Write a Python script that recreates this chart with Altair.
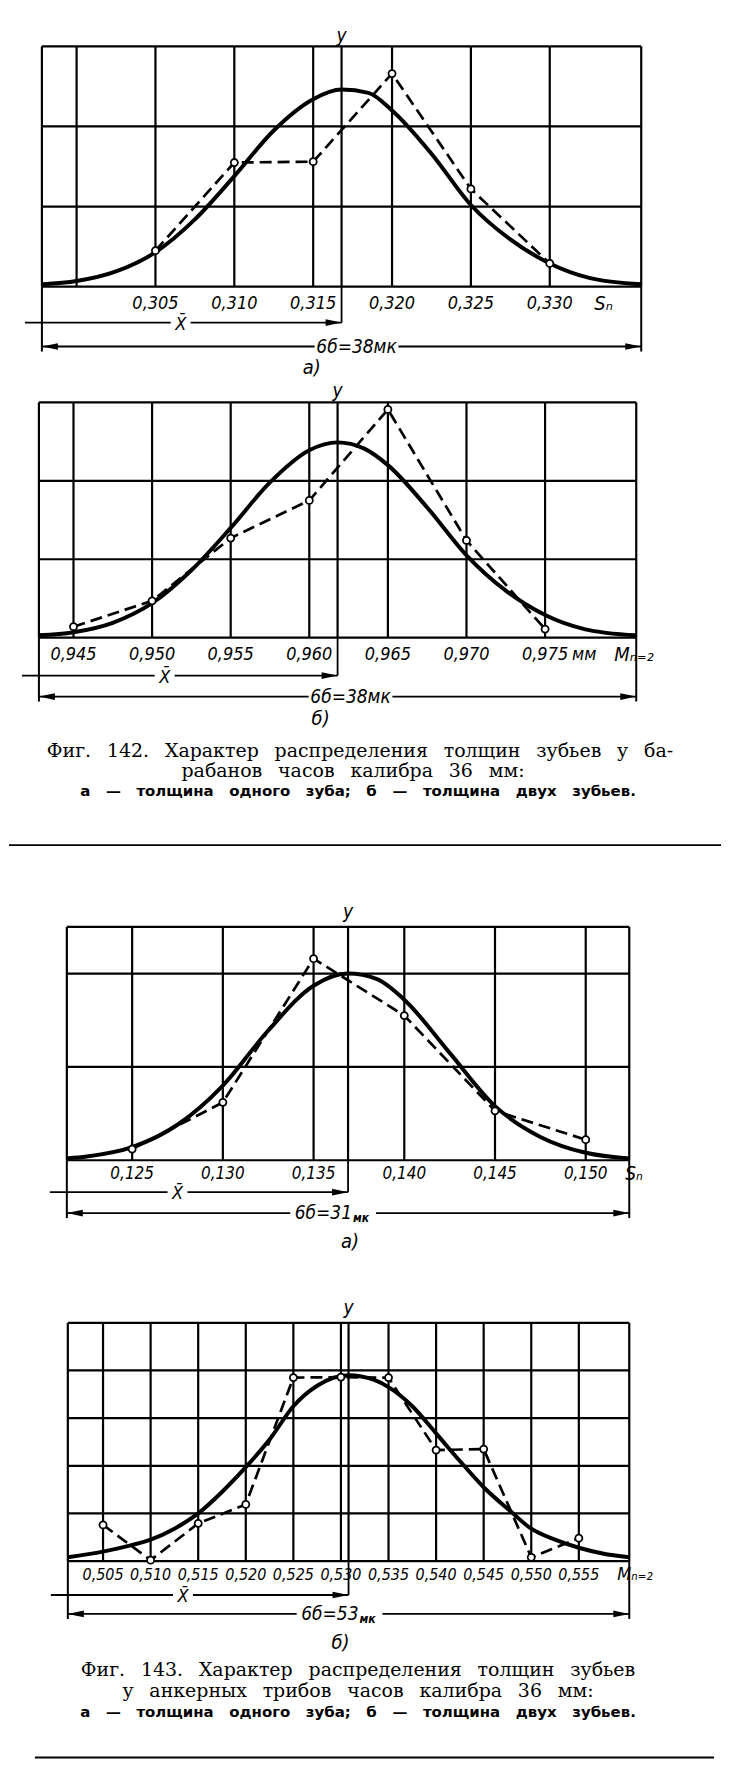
import altair as alt
import pandas as pd

FONT_LAB = "Liberation Sans Narrow, DejaVu Sans Condensed, Liberation Sans, sans-serif"
FONT_CAP = "DejaVu Serif, Liberation Serif, serif"
FONT_CAP3 = "DejaVu Sans, Liberation Sans, sans-serif"
W = 714

# ---------------- Фиг. 142 а ----------------
p1_frame = [0.2978, 0.3358]
p1_mean = 0.3168
p1_levels = [0, 1, 2, 3]
p1_grid_x = [0.300, 0.305, 0.310, 0.315, 0.320, 0.325, 0.330]
p1_ticks = [0.305, 0.310, 0.315, 0.320, 0.325, 0.330]
p1_tick_labels = ["0,305", "0,310", "0,315", "0,320", "0,325", "0,330"]
p1_obs_x = [0.305, 0.310, 0.315, 0.320, 0.325, 0.330]
p1_obs_y = [0.45, 1.55, 1.56, 2.66, 1.22, 0.29]
p1_fit_x = [0.2978, 0.300, 0.3025, 0.305, 0.3075, 0.310, 0.3125, 0.315, 0.3168,
            0.3185, 0.320, 0.3225, 0.325, 0.3275, 0.330, 0.3325, 0.3358]
p1_fit_y = [0.03, 0.07, 0.19, 0.43, 0.84, 1.38, 1.95, 2.34, 2.46,
            2.42, 2.20, 1.66, 1.02, 0.59, 0.29, 0.11, 0.03]

# ---------------- Фиг. 142 б ----------------
p2_frame = [0.9428, 0.9808]
p2_mean = 0.9618
p2_levels = [0, 1, 2, 3]
p2_grid_x = [0.945, 0.950, 0.955, 0.960, 0.965, 0.970, 0.975]
p2_ticks = [0.945, 0.950, 0.955, 0.960, 0.965, 0.970, 0.975]
p2_tick_labels = ["0,945", "0,950", "0,955", "0,960", "0,965", "0,970", "0,975"]
p2_obs_x = [0.945, 0.950, 0.955, 0.960, 0.965, 0.970, 0.975]
p2_obs_y = [0.14, 0.47, 1.27, 1.75, 2.91, 1.24, 0.11]
p2_fit_x = [0.9428, 0.945, 0.9475, 0.950, 0.9525, 0.955, 0.9575, 0.960, 0.9618,
            0.9635, 0.965, 0.9675, 0.970, 0.9725, 0.975, 0.9775, 0.9808]
p2_fit_y = [0.03, 0.07, 0.19, 0.44, 0.86, 1.40, 1.98, 2.39, 2.49,
            2.41, 2.20, 1.66, 1.05, 0.60, 0.29, 0.11, 0.03]

# ---------------- Фиг. 143 а ----------------
p3_frame = [0.1214, 0.1524]
p3_mean = 0.1369
p3_levels = [0, 1, 2, 2.5]
p3_grid_x = [0.125, 0.130, 0.135, 0.140, 0.145, 0.150]
p3_ticks = [0.125, 0.130, 0.135, 0.140, 0.145, 0.150]
p3_tick_labels = ["0,125", "0,130", "0,135", "0,140", "0,145", "0,150"]
p3_obs_x = [0.125, 0.130, 0.135, 0.140, 0.145, 0.150]
p3_obs_y = [0.12, 0.62, 2.16, 1.55, 0.53, 0.22]
p3_fit_x = [0.1214, 0.1225, 0.125, 0.1275, 0.130, 0.1325, 0.135, 0.1369,
            0.1385, 0.140, 0.1425, 0.145, 0.1475, 0.150, 0.1524]
p3_fit_y = [0.02, 0.04, 0.14, 0.38, 0.80, 1.39, 1.87, 2.00,
            1.94, 1.72, 1.15, 0.58, 0.25, 0.08, 0.02]

# ---------------- Фиг. 143 б ----------------
p4_frame = [0.5013, 0.5603]
p4_mean = 0.5308
p4_levels = [0, 1, 2, 3, 4, 5]
p4_grid_x = [0.505, 0.510, 0.515, 0.520, 0.525, 0.530, 0.535, 0.540, 0.545, 0.550, 0.555]
p4_ticks = [0.505, 0.510, 0.515, 0.520, 0.525, 0.530, 0.535, 0.540, 0.545, 0.550, 0.555]
p4_tick_labels = ["0,505", "0,510", "0,515", "0,520", "0,525", "0,530", "0,535",
                  "0,540", "0,545", "0,550", "0,555"]
p4_obs_x = [0.505, 0.510, 0.515, 0.520, 0.525, 0.530, 0.535, 0.540, 0.545, 0.550, 0.555]
p4_obs_y = [0.76, 0.02, 0.79, 1.19, 3.85, 3.86, 3.85, 2.33, 2.35, 0.08, 0.48]
p4_fit_x = [0.5013, 0.505, 0.5079, 0.510, 0.5125, 0.515, 0.5175, 0.520, 0.5225,
            0.525, 0.5275, 0.5308, 0.5335, 0.535, 0.5375, 0.540, 0.5425, 0.545,
            0.5478, 0.550, 0.5525, 0.555, 0.5575, 0.5603]
p4_fit_y = [0.08, 0.20, 0.33, 0.45, 0.68, 1.00, 1.45, 1.97, 2.55,
            3.25, 3.68, 3.90, 3.80, 3.65, 3.25, 2.68, 2.10, 1.55,
            1.05, 0.68, 0.45, 0.28, 0.16, 0.08]

# ---------------- captions ----------------
G = " \u00a0\u2009"
G3 = " \u00a0\u00a0"
cap142 = [G.join(["Фиг.", "142.", "Характер", "распределения", "толщин", "зубьев", "у", "ба-"]),
          G.join(["рабанов", "часов", "калибра", "36", "мм:"]),
          G3.join(["а", "—", "толщина", "одного", "зуба;", "б", "—", "толщина", "двух", "зубьев."])]
cap143 = [G.join(["Фиг.", "143.", "Характер", "распределения", "толщин", "зубьев"]),
          G.join(["у", "анкерных", "трибов", "часов", "калибра", "36", "мм:"]),
          G3.join(["а", "—", "толщина", "одного", "зуба;", "б", "—", "толщина", "двух", "зубьев."])]

ARROW_R = "M0,0L-2,-0.42L-2,0.42Z"
ARROW_L = "M0,0L2,-0.42L2,0.42Z"


def panel(frame, mean, levels, grid_x, ticks, tick_labels, obs_x, obs_y, fit_x, fit_y,
          lay, unit_text, unit_dx, sig_main, sig_sub, xbar_at, extra=None):
    L, R = frame
    top = levels[-1]
    xs = alt.Scale(domain=[L, R], range=[lay["Lpx"], lay["Rpx"]], nice=False, zero=False)
    ys = alt.Scale(domain=[0, top], range=[lay["axis"], lay["topy"]], nice=False, zero=False)
    ppu = (lay["Rpx"] - lay["Lpx"]) / (R - L)

    def X(f):
        return alt.X(f, type="quantitative", scale=xs, axis=None)

    def Y(f):
        return alt.Y(f, type="quantitative", scale=ys, axis=None)

    layers = []
    # vertical grid, frame borders and the mean (y) line
    vx = [L] + list(grid_x) + [mean, R]
    dv = pd.DataFrame({"x": vx, "y0": [0] * len(vx), "y1": [top] * len(vx)})
    layers.append(alt.Chart(dv).mark_rule(color="black", strokeWidth=2.2)
                  .encode(x=X("x"), y=Y("y0"), y2="y1"))
    # horizontal grid
    dh = pd.DataFrame({"lev": levels, "x0": [L] * len(levels), "x1": [R] * len(levels)})
    layers.append(alt.Chart(dh).mark_rule(color="black", strokeWidth=2.2)
                  .encode(x=X("x0"), x2="x1", y=Y("lev")))
    # borders extended below the axis
    de = pd.DataFrame({"x": [L, R]})
    layers.append(alt.Chart(de).mark_rule(color="black", strokeWidth=2)
                  .encode(x=X("x"), y=alt.value(lay["axis"]), y2=alt.value(lay["sig"] + 5)))
    dm = pd.DataFrame({"x": [mean]})
    layers.append(alt.Chart(dm).mark_rule(color="black", strokeWidth=1.8)
                  .encode(x=X("x"), y=alt.value(lay["axis"]), y2=alt.value(lay["xbar"])))
    # fitted normal curve
    df_fit = pd.DataFrame({"x": fit_x, "y": fit_y})
    layers.append(alt.Chart(df_fit).mark_line(color="black", strokeWidth=4, interpolate="monotone")
                  .encode(x=X("x"), y=Y("y")))
    # empirical polygon
    df_obs = pd.DataFrame({"x": obs_x, "y": obs_y})
    layers.append(alt.Chart(df_obs).mark_line(color="black", strokeWidth=2.7, strokeDash=[12, 6])
                  .encode(x=X("x"), y=Y("y")))
    layers.append(alt.Chart(df_obs).mark_point(shape="circle", filled=True, fill="white",
                                               stroke="black", strokeWidth=1.8, size=50, opacity=1)
                  .encode(x=X("x"), y=Y("y")))
    # tick labels
    dt = pd.DataFrame({"x": ticks, "t": tick_labels})
    layers.append(alt.Chart(dt).mark_text(font=FONT_LAB, fontStyle="italic", fontSize=lay["fs"],
                                          baseline="middle", align="center", color="black")
                  .encode(x=X("x"), y=alt.value(lay["lab"]), text="t:N"))
    # unit label at the right end of the axis
    du = pd.DataFrame({"x": [R], "t": [unit_text]})
    layers.append(alt.Chart(du).mark_text(font=FONT_LAB, fontStyle="italic", fontSize=lay["fs"] + 2,
                                          baseline="middle", align="left", dx=unit_dx, color="black")
                  .encode(x=X("x"), y=alt.value(lay["lab"]), text="t:N"))
    if extra is not None:
        dx_ = pd.DataFrame({"x": [extra[0]], "t": [extra[1]]})
        layers.append(alt.Chart(dx_).mark_text(font=FONT_LAB, fontStyle="italic", fontSize=lay["fs"],
                                               baseline="middle", align="left", dx=extra[2], color="black")
                      .encode(x=X("x"), y=alt.value(lay["lab"]), text="t:N"))
    # "y" label above the mean line
    dy_ = pd.DataFrame({"x": [mean], "t": ["y"]})
    layers.append(alt.Chart(dy_).mark_text(font=FONT_LAB, fontStyle="italic", fontSize=19,
                                           baseline="middle", align="center", color="black")
                  .encode(x=X("x"), y=alt.value(lay["ylab"]), text="t:N"))
    # X-bar arrow
    start = L - 17 / ppu
    g = 10 / ppu
    dxa = pd.DataFrame({"x0": [start, xbar_at + g], "x1": [xbar_at - g, mean]})
    layers.append(alt.Chart(dxa).mark_rule(color="black", strokeWidth=1.8)
                  .encode(x=X("x0"), x2="x1", y=alt.value(lay["xbar"])))
    layers.append(alt.Chart(dm).mark_point(shape=ARROW_R, filled=True, color="black", size=256,
                                           opacity=1, strokeWidth=0)
                  .encode(x=X("x"), y=alt.value(lay["xbar"])))
    dxl = pd.DataFrame({"x": [xbar_at], "t": ["X\u0304"]})
    layers.append(alt.Chart(dxl).mark_text(font=FONT_LAB, fontStyle="italic", fontSize=18,
                                           baseline="middle", align="center", color="black")
                  .encode(x=X("x"), y=alt.value(lay["xbar"] + 2), text="t:N"))
    # 6 sigma arrow
    c = mean + lay["sig_dx"] / ppu
    gl = lay["gap_l"] / ppu
    gr = lay["gap_r"] / ppu
    dsa = pd.DataFrame({"x0": [L, c + gr], "x1": [c - gl, R]})
    layers.append(alt.Chart(dsa).mark_rule(color="black", strokeWidth=1.8)
                  .encode(x=X("x0"), x2="x1", y=alt.value(lay["sig"])))
    layers.append(alt.Chart(pd.DataFrame({"x": [L]})).mark_point(shape=ARROW_L, filled=True, color="black",
                                                                 size=256, opacity=1, strokeWidth=0)
                  .encode(x=X("x"), y=alt.value(lay["sig"])))
    layers.append(alt.Chart(pd.DataFrame({"x": [R]})).mark_point(shape=ARROW_R, filled=True, color="black",
                                                                 size=256, opacity=1, strokeWidth=0)
                  .encode(x=X("x"), y=alt.value(lay["sig"])))
    dsl = pd.DataFrame({"x": [c], "t": [sig_main]})
    if sig_sub:
        layers.append(alt.Chart(dsl).mark_text(font=FONT_LAB, fontStyle="italic", fontSize=19,
                                               baseline="middle", align="right", dx=10, color="black")
                      .encode(x=X("x"), y=alt.value(lay["sig"]), text="t:N"))
        dss = pd.DataFrame({"x": [c], "t": [sig_sub]})
        layers.append(alt.Chart(dss).mark_text(font=FONT_LAB, fontStyle="italic", fontWeight="bold",
                                               fontSize=12, baseline="middle", align="left", dx=11, dy=5,
                                               color="black")
                      .encode(x=X("x"), y=alt.value(lay["sig"]), text="t:N"))
    else:
        layers.append(alt.Chart(dsl).mark_text(font=FONT_LAB, fontStyle="italic", fontSize=19,
                                               baseline="middle", align="center", color="black")
                      .encode(x=X("x"), y=alt.value(lay["sig"]), text="t:N"))
    # sub-figure label
    dsub = pd.DataFrame({"x": [mean], "t": [lay["sub"]]})
    layers.append(alt.Chart(dsub).mark_text(font=FONT_LAB, fontStyle="italic", fontSize=20,
                                            baseline="middle", align="center", dx=lay["sub_dx"], color="black")
                  .encode(x=X("x"), y=alt.value(lay["suby"]), text="t:N"))
    return alt.layer(*layers).properties(width=W, height=lay["h"])


def caption(lines, centers, ys, h, rule_y, rx0, rx1):
    layers = []
    specs = [(FONT_CAP, 19, "normal"), (FONT_CAP, 19, "normal"), (FONT_CAP3, 15, "bold")]
    for i, txt in enumerate(lines):
        f, s, w = specs[i]
        layers.append(alt.Chart(pd.DataFrame({"t": [txt]}))
                      .mark_text(font=f, fontSize=s, fontWeight=w, baseline="middle", align="center",
                                 color="black")
                      .encode(x=alt.value(centers[i]), y=alt.value(ys[i]), text="t:N"))
    layers.append(alt.Chart(pd.DataFrame({"a": [0]})).mark_rule(color="black", strokeWidth=2)
                  .encode(x=alt.value(rx0), x2=alt.value(rx1), y=alt.value(rule_y)))
    return alt.layer(*layers).properties(width=W, height=h)


lay1 = dict(Lpx=33, Rpx=634, ylab=26, topy=36, axis=277, lab=294, xbar=313, sig=337, suby=359,
            h=372, fs=18, sig_dx=15, gap_l=42, gap_r=42, sub="а)", sub_dx=-30)
lay2 = dict(Lpx=30, Rpx=629, ylab=10, topy=21, axis=257, lab=274, xbar=295, sig=316, suby=339,
            h=355, fs=18, sig_dx=13, gap_l=42, gap_r=42, sub="б)", sub_dx=-17)
lay3 = dict(Lpx=58, Rpx=622, ylab=47, topy=62, axis=296, lab=310, xbar=328, sig=349, suby=378,
            h=390, fs=17, sig_dx=-6, gap_l=52, gap_r=34, sub="а)", sub_dx=2)
lay4 = dict(Lpx=59, Rpx=622, ylab=54, topy=69, axis=308, lab=322, xbar=342, sig=361, suby=390,
            h=400, fs=16, sig_dx=0, gap_l=52, gap_r=34, sub="б)", sub_dx=-8)

ch1 = panel(p1_frame, p1_mean, p1_levels, p1_grid_x, p1_ticks, p1_tick_labels, p1_obs_x, p1_obs_y,
            p1_fit_x, p1_fit_y, lay1, "S\u2099", -47, "6б=38мк", None, 0.3066)
ch2 = panel(p2_frame, p2_mean, p2_levels, p2_grid_x, p2_ticks, p2_tick_labels, p2_obs_x, p2_obs_y,
            p2_fit_x, p2_fit_y, lay2, "M\u2099\u208c\u2082", -22, "6б=38мк", None, 0.9508,
            extra=(0.975, "мм", 27))
ch3 = panel(p3_frame, p3_mean, p3_levels, p3_grid_x, p3_ticks, p3_tick_labels, p3_obs_x, p3_obs_y,
            p3_fit_x, p3_fit_y, lay3, "S\u2099", -4, "6б=31", "мк", 0.1275)
ch4 = panel(p4_frame, p4_mean, p4_levels, p4_grid_x, p4_ticks, p4_tick_labels, p4_obs_x, p4_obs_y,
            p4_fit_x, p4_fit_y, lay4, "M\u2099\u208c\u2082", -12, "6б=53", "мк", 0.5134)

c142 = caption(cap142, [352, 345, 350], [16, 36, 56], 130, 110, 0, 714)
c143 = caption(cap143, [350, 350, 350], [17, 38, 59], 115, 105, 26, 707)

chart = (alt.vconcat(ch1, ch2, c142, ch3, ch4, c143, spacing=0)
         .properties(padding=0)
         .configure_view(stroke=None)
         .configure_concat(spacing=0))

chart.save("out.html", embed_options={"renderer": "svg", "actions": False})
